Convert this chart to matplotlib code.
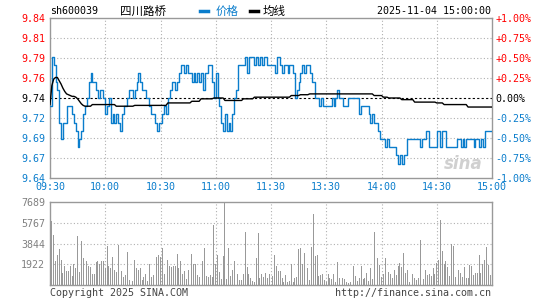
import numpy as np
import matplotlib
matplotlib.use('Agg')
import matplotlib.pyplot as plt
from matplotlib.lines import Line2D

# ---- data ----
prev_close = 9.74

price = [
    9.73, 9.79, 9.78, 9.76, 9.75, 9.71, 9.69, 9.71, 9.71, 9.73,
    9.73, 9.73, 9.72, 9.71, 9.70, 9.68, 9.69, 9.70, 9.72, 9.73,
    9.74, 9.76, 9.77, 9.76, 9.76, 9.75, 9.74, 9.75, 9.75, 9.74,
    9.72, 9.73, 9.74, 9.71, 9.72, 9.71, 9.72, 9.71, 9.70, 9.72,
    9.73, 9.73, 9.74, 9.75, 9.75, 9.74, 9.75, 9.76, 9.77, 9.76,
    9.75, 9.75, 9.74, 9.74, 9.73, 9.72, 9.72, 9.71, 9.70, 9.71,
    9.71, 9.72, 9.73, 9.72, 9.74, 9.75, 9.76, 9.76, 9.75, 9.76,
    9.77, 9.78, 9.78, 9.77, 9.78, 9.77, 9.77, 9.76, 9.77, 9.76,
    9.77, 9.76, 9.77, 9.75, 9.77, 9.77, 9.78, 9.78, 9.76, 9.74,
    9.77, 9.74, 9.73, 9.71, 9.70, 9.72, 9.70, 9.71, 9.70, 9.72,
    9.74, 9.75, 9.78, 9.78, 9.78, 9.78, 9.79, 9.77, 9.79, 9.79,
    9.79, 9.78, 9.79, 9.78, 9.79, 9.78, 9.79, 9.79, 9.78, 9.78,
    9.78, 9.78, 9.77, 9.79, 9.79, 9.78, 9.77, 9.78, 9.78, 9.77,
    9.78, 9.78, 9.77, 9.74, 9.75, 9.76, 9.77, 9.78, 9.77, 9.78,
    9.78, 9.77, 9.76, 9.76, 9.74, 9.74, 9.73, 9.74, 9.73, 9.73,
    9.73, 9.73, 9.73, 9.74, 9.73, 9.74, 9.75, 9.74, 9.74, 9.73,
    9.73, 9.73, 9.74, 9.74, 9.74, 9.74, 9.74, 9.74, 9.72, 9.73,
    9.73, 9.73, 9.73, 9.72, 9.71, 9.72, 9.71, 9.71, 9.70, 9.69,
    9.69, 9.69, 9.68, 9.69, 9.68, 9.68, 9.68, 9.68, 9.67, 9.66,
    9.67, 9.66, 9.67, 9.67, 9.69, 9.69, 9.69, 9.69, 9.69, 9.69,
    9.69, 9.68, 9.69, 9.69, 9.70, 9.70, 9.68, 9.68, 9.68, 9.68,
    9.70, 9.70, 9.68, 9.70, 9.70, 9.68, 9.68, 9.68, 9.68, 9.68,
    9.68, 9.69, 9.69, 9.68, 9.69, 9.68, 9.69, 9.69, 9.69, 9.69,
    9.68, 9.69, 9.69, 9.68, 9.69, 9.68, 9.70, 9.70, 9.70, 9.70,
    9.70,
]

avg = [
    9.732, 9.755, 9.763, 9.765, 9.765, 9.761, 9.757, 9.752, 9.748, 9.745,
    9.744, 9.743, 9.742, 9.742, 9.741, 9.739, 9.736, 9.733, 9.731, 9.730,
    9.730, 9.730, 9.730, 9.732, 9.732, 9.732, 9.732, 9.732, 9.732, 9.732,
    9.732, 9.732, 9.732, 9.732, 9.732, 9.732, 9.730, 9.730, 9.730, 9.730,
    9.730, 9.730, 9.730, 9.730, 9.730, 9.730, 9.731, 9.731, 9.731, 9.731,
    9.731, 9.731, 9.731, 9.731, 9.731, 9.731, 9.731, 9.731, 9.731, 9.731,
    9.731, 9.731, 9.731, 9.731, 9.734, 9.734, 9.734, 9.734, 9.734, 9.734,
    9.734, 9.734, 9.734, 9.734, 9.734, 9.734, 9.734, 9.736, 9.736, 9.736,
    9.736, 9.736, 9.739, 9.739, 9.739, 9.739, 9.739, 9.739, 9.739, 9.740,
    9.740, 9.740, 9.740, 9.740, 9.740, 9.737, 9.737, 9.737, 9.737, 9.737,
    9.737, 9.737, 9.737, 9.737, 9.737, 9.739, 9.739, 9.739, 9.739, 9.739,
    9.739, 9.741, 9.741, 9.741, 9.741, 9.741, 9.741, 9.741, 9.741, 9.741,
    9.741, 9.741, 9.741, 9.741, 9.741, 9.741, 9.741, 9.741, 9.741, 9.741,
    9.741, 9.743, 9.743, 9.743, 9.743, 9.743, 9.744, 9.744, 9.744, 9.744,
    9.744, 9.745, 9.745, 9.745, 9.745, 9.745, 9.745, 9.745, 9.745, 9.745,
    9.745, 9.745, 9.745, 9.745, 9.745, 9.745, 9.745, 9.745, 9.745, 9.745,
    9.745, 9.745, 9.745, 9.745, 9.745, 9.745, 9.745, 9.745, 9.745, 9.745,
    9.745, 9.745, 9.745, 9.745, 9.745, 9.745, 9.743, 9.743, 9.743, 9.743,
    9.743, 9.741, 9.741, 9.741, 9.740, 9.740, 9.740, 9.740, 9.740, 9.740,
    9.740, 9.738, 9.738, 9.738, 9.738, 9.738, 9.738, 9.738, 9.735, 9.735,
    9.735, 9.735, 9.735, 9.735, 9.735, 9.735, 9.735, 9.735, 9.735, 9.735,
    9.734, 9.734, 9.734, 9.734, 9.732, 9.732, 9.732, 9.732, 9.732, 9.732,
    9.732, 9.732, 9.732, 9.732, 9.732, 9.732, 9.732, 9.729, 9.729, 9.729,
    9.729, 9.729, 9.729, 9.729, 9.729, 9.729, 9.729, 9.729, 9.729, 9.729,
    9.729,
]

volume = [
    820, 5920, 4640, 2260, 2810, 3360, 2350, 1130, 1740, 1340,
    1340, 1740, 820, 1950, 1530, 4580, 1220, 4090, 2500, 1220,
    2200, 1740, 1650, 1040, 1040, 2140, 2200, 1950, 2200, 2200,
    1530, 3630, 1740, 1530, 2560, 1430, 1220, 3660, 1740, 1280,
    730, 920, 3050, 490, 370, 370, 2350, 1530, 1430, 1590,
    490, 730, 980, 370, 1950, 730, 920, 1890, 2560, 2750,
    2560, 3420, 980, 1740, 2350, 1740, 1650, 1740, 1740, 2870,
    1530, 2200, 1040, 1340, 520, 1430, 1890, 2870, 1950, 1950,
    920, 730, 1040, 2260, 3420, 820, 730, 920, 730, 5550,
    1950, 2810, 1220, 520, 2650, 7689, 520, 3420, 820, 1430,
    2200, 1220, 980, 430, 430, 1040, 4940, 1650, 1040, 670,
    370, 300, 2500, 4790, 670, 1040, 730, 1100, 670, 980,
    730, 820, 2810, 1740, 1280, 1340, 670, 300, 920, 300,
    370, 1950, 300, 610, 730, 3360, 3420, 1950, 2960, 2350,
    1590, 430, 3480, 6620, 2650, 2750, 820, 920, 1040, 460,
    300, 980, 610, 520, 1040, 300, 2140, 670, 370, 670,
    520, 300, 210, 300, 490, 1740, 820, 370, 670, 1740,
    520, 670, 1130, 370, 1530, 520, 4880, 3570, 2500, 1890,
    730, 1040, 2500, 920, 1220, 1040, 670, 1430, 920, 1800,
    2040, 1650, 2960, 1130, 1430, 300, 2040, 1040, 670, 430,
    670, 4150, 730, 520, 1430, 920, 980, 820, 1590, 1040,
    2040, 2350, 6010, 3110, 1950, 2260, 1680, 850, 3780, 3570,
    730, 670, 1430, 1130, 760, 1650, 670, 670, 1890, 1800,
    920, 1130, 1130, 2810, 1130, 1950, 2350, 3510, 1890, 920,
    920,
]

price_ticks = ['9.64', '9.67', '9.69', '9.72', '9.74', '9.76', '9.79', '9.81', '9.84']
pct_ticks = ['-1.00%', '-0.75%', '-0.50%', '-0.25%', '0.00%',
             '+0.25%', '+0.50%', '+0.75%', '+1.00%']
time_ticks = ['09:30', '10:00', '10:30', '11:00', '11:30',
              '13:30', '14:00', '14:30', '15:00']
vol_ticks = [1922, 3844, 5767, 7689]

# ---- style ----
W, H = 545, 300
BLUE = '#0a7dcc'
RED = '#ff0000'
FRAME = '#999999'
GRID = '#b0b0b0'
MONO = 'DejaVu Sans Mono'
FS = 7.2

def fx(px):
    return px / W

def fy(py):
    return 1 - py / H

fig = plt.figure(figsize=(W / 100, H / 100), dpi=100)

# main price panel
ax = fig.add_axes([fx(50), fy(178), fx(442), 160 / H])
x = np.arange(len(price))
lo, hi = prev_close * 0.99, prev_close * 1.01
ax.set_xlim(0, 240)
ax.set_ylim(lo, hi)
levels = np.linspace(lo, hi, 9)

for lv in levels[1:-1]:
    if abs(lv - prev_close) < 1e-6:
        continue
    ax.axhline(lv, color=GRID, lw=0.8, ls=(0, (1, 2)), zorder=1)
for t in range(30, 240, 30):
    ax.axvline(t, color=GRID, lw=0.8, ls=(0, (1, 2)), zorder=1)
ax.axhline(prev_close, color='black', lw=0.8, ls=(0, (2, 2)), zorder=2)

ax.plot(x, price, color=BLUE, lw=1.0, drawstyle='steps-post', zorder=3)
ax.plot(x, avg, color='black', lw=1.0, zorder=4)

ax.set_yticks(levels)
ax.set_yticklabels(price_ticks, fontfamily=MONO, fontsize=FS)
for lab, lv in zip(ax.get_yticklabels(), levels):
    if lv > prev_close + 1e-6:
        lab.set_color(RED)
    elif lv < prev_close - 1e-6:
        lab.set_color(BLUE)
    else:
        lab.set_color('black')
ax.set_xticks(range(0, 241, 30))
ax.set_xticklabels(time_ticks, fontfamily=MONO, fontsize=FS, color=BLUE)
ax.tick_params(length=0, pad=3.2)
for s in ax.spines.values():
    s.set_color(FRAME)
    s.set_linewidth(1.0)

ax2 = ax.twinx()
ax2.set_ylim(lo, hi)
ax2.set_yticks(levels)
ax2.set_yticklabels(pct_ticks, fontfamily=MONO, fontsize=FS)
for lab, lv in zip(ax2.get_yticklabels(), levels):
    if lv > prev_close + 1e-6:
        lab.set_color(RED)
    elif lv < prev_close - 1e-6:
        lab.set_color(BLUE)
    else:
        lab.set_color('black')
ax2.tick_params(length=0, pad=2.2)
for s in ax2.spines.values():
    s.set_visible(False)

# sina watermark
ax.text(0.935, 0.09, 'sina', transform=ax.transAxes, fontsize=12,
        fontweight='bold', style='italic', color='#d0d0d0',
        ha='center', va='center', zorder=2)

# volume panel
axv = fig.add_axes([fx(50), fy(285), fx(442), 83 / H])
axv.set_xlim(0, 240)
axv.set_ylim(0, vol_ticks[-1])
for v in vol_ticks[:-1]:
    axv.axhline(v, color=GRID, lw=0.8, ls=(0, (1, 2)), zorder=1)
for t in range(30, 240, 30):
    axv.axvline(t, color=GRID, lw=0.8, ls=(0, (1, 2)), zorder=1)
axv.bar(x, volume, width=0.5, color='#999999', zorder=2)
axv.set_yticks(vol_ticks)
axv.set_yticklabels([str(v) for v in vol_ticks], fontfamily=MONO,
                    fontsize=FS, color='#808080')
axv.set_xticks([])
axv.tick_params(length=0, pad=3.6)
for s in axv.spines.values():
    s.set_color(FRAME)
    s.set_linewidth(1.0)

# header
fig.text(fx(50), fy(11), 'sh600039', fontfamily=MONO, fontsize=FS,
         ha='left', va='center')
fig.text(fx(143), fy(11), '四川路桥', family=['Noto Sans CJK SC', 'DejaVu Sans'],
         fontsize=8.3, ha='center', va='center')
fig.add_artist(Line2D([fx(200), fx(208)], [fy(11), fy(11)], color=BLUE, lw=2.5))
fig.text(fx(216), fy(11), '价格', family=['Noto Sans CJK SC', 'DejaVu Sans'],
         fontsize=8.3, color=BLUE, ha='left', va='center')
fig.add_artist(Line2D([fx(250), fx(258)], [fy(11), fy(11)], color='black', lw=2.5))
fig.text(fx(263), fy(11), '均线', family=['Noto Sans CJK SC', 'DejaVu Sans'],
         fontsize=8.3, color='black', ha='left', va='center')
fig.text(fx(491), fy(11), '2025-11-04 15:00:00', fontfamily=MONO, fontsize=FS,
         ha='right', va='center')

# footer
fig.text(fx(50), fy(293), 'Copyright 2025 SINA.COM', fontfamily=MONO,
         fontsize=FS, color='#444444', ha='left', va='center')
fig.text(fx(491), fy(293), 'http://finance.sina.com.cn', fontfamily=MONO,
         fontsize=FS, color='#444444', ha='right', va='center')

fig.savefig('out.png', dpi=100, facecolor='white')
